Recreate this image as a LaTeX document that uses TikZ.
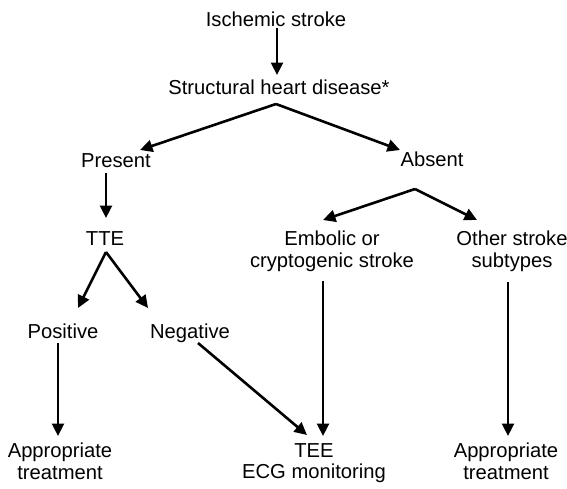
\documentclass[tikz,border=0pt]{standalone}
\usepackage{fontspec}
\setmainfont{Liberation Sans}
\usetikzlibrary{arrows.meta}
\begin{document}
\begin{tikzpicture}[x=1pt,y=-1pt,
  lbl/.style={anchor=north,inner sep=0pt,align=center,
    font=\fontsize{20.2}{21.5}\selectfont,execute at begin node=\strut},
  arr/.style={line width=2.6pt,-{Triangle[length=12.5pt,width=12pt]}}]
\useasboundingbox (0,0) rectangle (567,488);

% text nodes (top edge = first baseline - strut height)
\node[lbl] (isch)   at (276,11)  {Ischemic stroke};
\node[lbl] (struct) at (279,79)  {Structural heart disease*};
\node[lbl] (pres)   at (116,152) {Present};
\node[lbl] (abs)    at (432,151) {Absent};
\node[lbl] (tte)    at (105,230) {TTE};
\node[lbl] (pos)    at (63,323)  {Positive};
\node[lbl] (neg)    at (190,323) {Negative};
\node[lbl] (emb)    at (332,231) {Embolic or\\cryptogenic stroke};
\node[lbl] (oth)    at (512,231) {Other stroke\\subtypes};
\node[lbl] (tx1)    at (60,443)  {Appropriate\\treatment};
\node[lbl] (tee)    at (314,443) {TEE\\ECG monitoring};
\node[lbl] (tx2)    at (506,443) {Appropriate\\treatment};

% connector end points
\coordinate (isch-o)  at (277,28);
\coordinate (struct-i) at (277,75);
\coordinate (fork1)   at (276,104);
\coordinate (pres-i)  at (140,150);
\coordinate (abs-i)   at (400,150);
\coordinate (pres-o)  at (106,173);
\coordinate (tte-i)   at (106,218);
\coordinate (fork2)   at (106,252);
\coordinate (pos-i)   at (78,308);
\coordinate (neg-i)   at (148,308);
\coordinate (pos-o)   at (58,343);
\coordinate (tx1-i)   at (58,436);
\coordinate (neg-o)   at (198,343);
\coordinate (tee-i1)  at (307,435);
\coordinate (fork3)   at (415,189);
\coordinate (emb-i)   at (323,220);
\coordinate (oth-i)   at (477,220);
\coordinate (emb-o)   at (323,281);
\coordinate (tee-i2)  at (323,436);
\coordinate (oth-o)   at (508,282);
\coordinate (tx2-i)   at (508,436);

\draw[arr] (isch-o) -- (struct-i);
\draw[arr] (fork1) -- (pres-i);
\draw[arr] (fork1) -- (abs-i);
\draw[arr] (pres-o) -- (tte-i);
\draw[arr] (fork2) -- (pos-i);
\draw[arr] (fork2) -- (neg-i);
\draw[arr] (pos-o) -- (tx1-i);
\draw[arr] (neg-o) -- (tee-i1);
\draw[arr] (fork3) -- (emb-i);
\draw[arr] (fork3) -- (oth-i);
\draw[arr] (emb-o) -- (tee-i2);
\draw[arr] (oth-o) -- (tx2-i);
\end{tikzpicture}
\end{document}
